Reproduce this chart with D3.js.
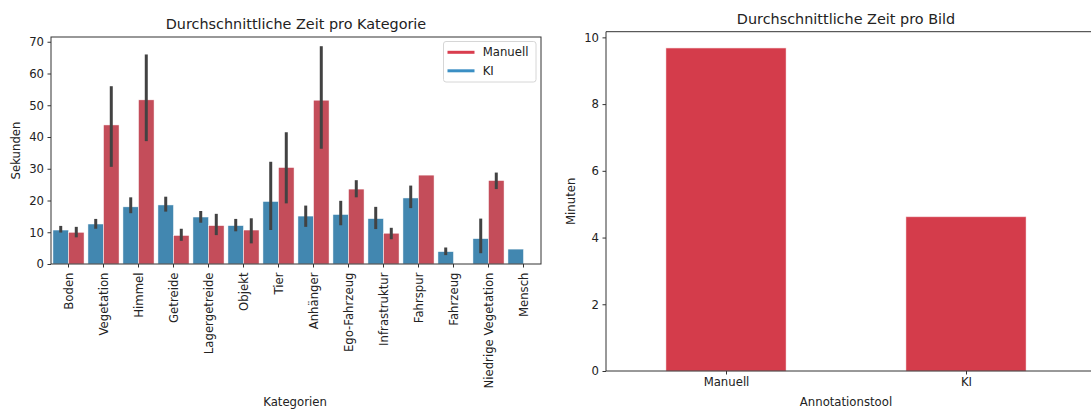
<!DOCTYPE html>
<html>
<head>
<meta charset="utf-8">
<script src="https://cdn.jsdelivr.net/npm/d3@7"></script>
<style>
  html, body { margin: 0; padding: 0; background: #fff; }
  svg { display: block; font-family: "DejaVu Sans", sans-serif; }
</style>
</head>
<body>
<svg id="chart" width="1091" height="410"></svg>
<script>
// ---------- Data ----------
const categories = ["Boden","Vegetation","Himmel","Getreide","Lagergetreide","Objekt","Tier","Anhänger","Ego-Fahrzeug","Infrastruktur","Fahrspur","Fahrzeug","Niedrige Vegetation","Mensch"];
const series = ["KI","Manuell"];
const kiMean  = [10.7,12.6,18.0,18.6,14.8,12.1,19.7,15.1,15.6,14.3,20.8,3.9,8.0,4.7];
const kiLow   = [9.9,11.1,16.0,16.5,13.0,10.3,10.7,11.7,12.2,11.0,17.6,2.8,3.4,null];
const kiHigh  = [12.0,14.2,21.0,21.2,16.7,14.2,32.2,18.4,19.9,18.0,24.7,5.2,14.3,null];
const manMean = [10.0,43.8,51.7,9.0,12.1,10.7,30.4,51.6,23.6,9.7,28.0,null,26.3,null];
const manLow  = [8.4,30.6,38.7,7.3,9.1,6.5,19.1,36.3,21.0,7.8,null,null,23.6,null];
const manHigh = [11.7,56.0,66.0,11.1,15.8,14.4,41.5,68.6,26.4,11.4,null,null,28.8,null];
const leftYTicks = [0,10,20,30,40,50,60,70];

const tools = ["Manuell","KI"];
const minutes = [9.68, 4.62];
const rightYTicks = [0,2,4,6,8,10];

// ---------- Styles ----------
const colKI = "#4287b0", colMan = "#c44d5a";
const legKI = "#3b8fc4", legMan = "#d93d4e";
const colRight = "#d43c4b";
const errCol = "#424242";
const axisCol = "#333333";
const fs = 11.7;
const tfs = 14.4;

const svg = d3.select("#chart");

// ---------- Left chart ----------
const L = {x0: 51, x1: 541, y0: 37, y1: 264};
const x = d3.scaleBand().domain(categories).range([L.x0, L.x1]).paddingInner(0).paddingOuter(0);
const xs = d3.scaleBand().domain(series).range([0, x.bandwidth()]).paddingInner(0).paddingOuter(0.125);
const y = d3.scaleLinear().domain([0, 71.5]).range([L.y1, L.y0]);

const gL = svg.append("g");
const rows = [];
categories.forEach((c, i) => {
  rows.push({c, s: "KI", v: kiMean[i], lo: kiLow[i], hi: kiHigh[i]});
  rows.push({c, s: "Manuell", v: manMean[i], lo: manLow[i], hi: manHigh[i]});
});
const valid = rows.filter(d => d.v != null);

gL.selectAll("rect.bar").data(valid).enter().append("rect")
  .attr("x", d => x(d.c) + xs(d.s))
  .attr("width", xs.bandwidth())
  .attr("y", d => y(d.v))
  .attr("height", d => y(0) - y(d.v))
  .attr("fill", d => d.s === "KI" ? colKI : colMan)
  .attr("stroke", "#ffffff").attr("stroke-width", 0.5);

gL.selectAll("line.err").data(valid.filter(d => d.lo != null)).enter().append("line")
  .attr("x1", d => x(d.c) + xs(d.s) + xs.bandwidth()/2)
  .attr("x2", d => x(d.c) + xs(d.s) + xs.bandwidth()/2)
  .attr("y1", d => y(d.lo)).attr("y2", d => y(d.hi))
  .attr("stroke", errCol).attr("stroke-width", 3);

// frame
gL.append("rect").attr("x", L.x0).attr("y", L.y0).attr("width", L.x1 - L.x0).attr("height", L.y1 - L.y0)
  .attr("fill", "none").attr("stroke", axisCol).attr("stroke-width", 1);

// y axis
const yAx = gL.append("g").attr("transform", `translate(${L.x0},0)`)
  .call(d3.axisLeft(y).tickValues(leftYTicks).tickSize(3.5).tickPadding(3.5));
yAx.select(".domain").remove();
yAx.selectAll("line").attr("stroke", axisCol);
yAx.selectAll("text").attr("font-size", fs).attr("fill", "#222").attr("font-family", "DejaVu Sans");

// x axis
const xAx = gL.append("g").attr("transform", `translate(0,${L.y1})`)
  .call(d3.axisBottom(x).tickSize(3.5).tickPadding(3.5));
xAx.select(".domain").remove();
xAx.selectAll("line").attr("stroke", axisCol);
xAx.selectAll("text").attr("font-size", fs).attr("fill", "#222").attr("font-family", "DejaVu Sans")
  .attr("transform", "rotate(-90)").attr("text-anchor", "end")
  .attr("x", -8.5).attr("y", 0).attr("dy", "0.35em");

gL.append("text").attr("x", (L.x0 + L.x1)/2).attr("y", 29).attr("text-anchor", "middle")
  .attr("font-size", tfs).attr("fill", "#222").text("Durchschnittliche Zeit pro Kategorie");
gL.append("text").attr("x", (L.x0 + L.x1)/2 - 1).attr("y", 406).attr("text-anchor", "middle")
  .attr("font-size", fs).attr("fill", "#222").text("Kategorien");
gL.append("text").attr("transform", `translate(19.5,${(L.y0 + L.y1)/2}) rotate(-90)`).attr("text-anchor", "middle")
  .attr("font-size", fs).attr("fill", "#222").text("Sekunden");

// legend
const lg = gL.append("g");
lg.append("rect").attr("x", 443.5).attr("y", 41.5).attr("width", 92.5).attr("height", 40.5).attr("rx", 2.5)
  .attr("fill", "#fff").attr("fill-opacity", 0.8).attr("stroke", "#d6d6d6").attr("stroke-width", 1);
const legItems = [{s: "Manuell", c: legMan, y: 52.3}, {s: "KI", c: legKI, y: 70.8}];
legItems.forEach(it => {
  lg.append("line").attr("x1", 447.5).attr("x2", 474.5).attr("y1", it.y).attr("y2", it.y)
    .attr("stroke", it.c).attr("stroke-width", 3);
  lg.append("text").attr("x", 482.7).attr("y", it.y).attr("dy", "0.35em")
    .attr("font-size", fs).attr("fill", "#222").text(it.s);
});

// ---------- Right chart ----------
const R = {x0: 606, x1: 1086, y0: 31.7, y1: 371};
const xr = d3.scaleLinear().domain([-0.5, 1.5]).range([R.x0, R.x1]);
const yr = d3.scaleLinear().domain([0, 10.17]).range([R.y1, R.y0]);
const gR = svg.append("g");

gR.selectAll("rect.bar").data(tools).enter().append("rect")
  .attr("x", (d, i) => xr(i - 0.25))
  .attr("width", (d, i) => xr(i + 0.25) - xr(i - 0.25))
  .attr("y", (d, i) => yr(minutes[i]))
  .attr("height", (d, i) => yr(0) - yr(minutes[i]))
  .attr("fill", colRight).attr("stroke", "#f3c9cd").attr("stroke-width", 0.5);

// spines (left, top, bottom; right edge is cut off)
gR.append("line").attr("x1", R.x0).attr("x2", R.x0).attr("y1", R.y0).attr("y2", R.y1).attr("stroke", axisCol);
gR.append("line").attr("x1", R.x0).attr("x2", 1091).attr("y1", R.y0).attr("y2", R.y0).attr("stroke", axisCol);
gR.append("line").attr("x1", R.x0).attr("x2", 1091).attr("y1", R.y1).attr("y2", R.y1).attr("stroke", axisCol);

const yrAx = gR.append("g").attr("transform", `translate(${R.x0},0)`)
  .call(d3.axisLeft(yr).tickValues(rightYTicks).tickSize(3.5).tickPadding(3.5));
yrAx.select(".domain").remove();
yrAx.selectAll("line").attr("stroke", axisCol);
yrAx.selectAll("text").attr("font-size", fs).attr("fill", "#222").attr("font-family", "DejaVu Sans");

const xrAx = gR.append("g").attr("transform", `translate(0,${R.y1})`)
  .call(d3.axisBottom(xr).tickValues([0, 1]).tickFormat(i => tools[i]).tickSize(3.5).tickPadding(3.5));
xrAx.select(".domain").remove();
xrAx.selectAll("line").attr("stroke", axisCol);
xrAx.selectAll("text").attr("font-size", fs).attr("fill", "#222").attr("font-family", "DejaVu Sans");

gR.append("text").attr("x", (R.x0 + R.x1)/2).attr("y", 23.5).attr("text-anchor", "middle")
  .attr("font-size", tfs).attr("fill", "#222").text("Durchschnittliche Zeit pro Bild");
gR.append("text").attr("x", (R.x0 + R.x1)/2).attr("y", 406).attr("text-anchor", "middle")
  .attr("font-size", fs).attr("fill", "#222").text("Annotationstool");
gR.append("text").attr("transform", `translate(575,${(R.y0 + R.y1)/2}) rotate(-90)`).attr("text-anchor", "middle")
  .attr("font-size", fs).attr("fill", "#222").text("Minuten");
</script>
</body>
</html>
